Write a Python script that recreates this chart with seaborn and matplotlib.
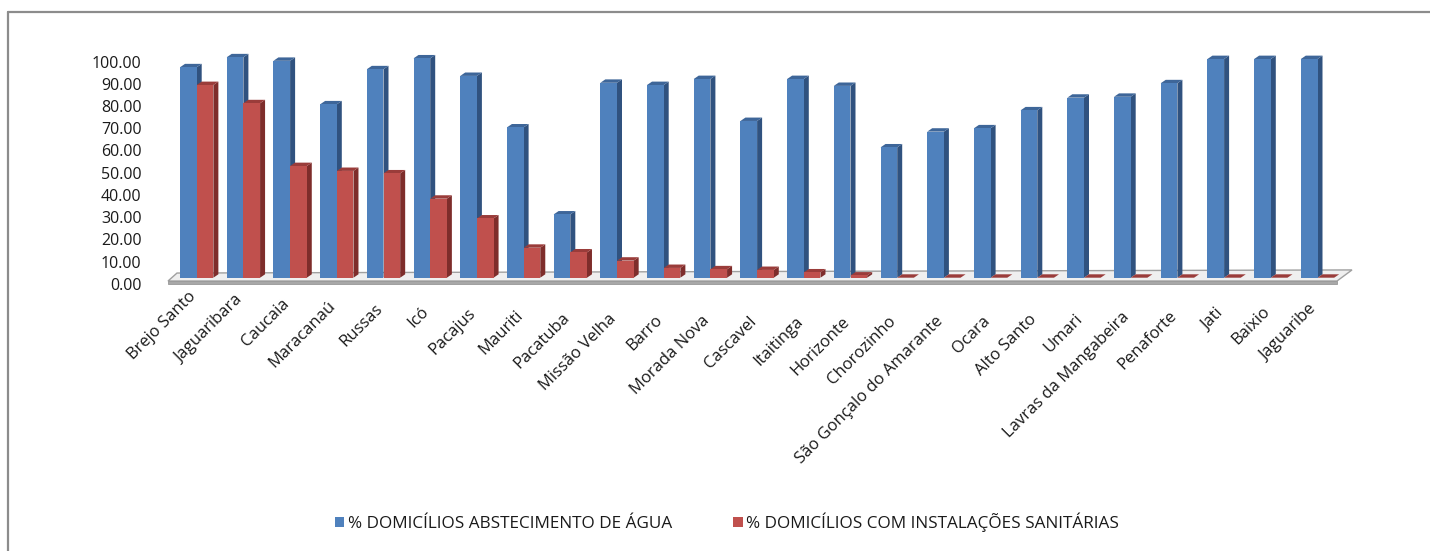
import matplotlib
matplotlib.use("Agg")
import matplotlib.pyplot as plt
from matplotlib.patches import Polygon, Patch
from matplotlib.lines import Line2D
from matplotlib.transforms import ScaledTranslation
import seaborn as sns
import pandas as pd

municipios = [
    "Brejo Santo", "Jaguaribara", "Caucaia", "Maracanaú", "Russas", "Icó",
    "Pacajus", "Mauriti", "Pacatuba", "Missão Velha", "Barro", "Morada Nova",
    "Cascavel", "Itaitinga", "Horizonte", "Chorozinho",
    "São Gonçalo do Amarante", "Ocara", "Alto Santo", "Umari",
    "Lavras da Mangabeira", "Penaforte", "Jati", "Baixio", "Jaguaribe",
]
agua = [94.8, 99.3, 97.7, 78.1, 93.9, 98.8, 90.9, 67.7, 28.5, 87.8, 86.8,
        89.5, 70.6, 89.5, 86.4, 58.7, 65.8, 67.3, 75.4, 81.1, 81.5, 87.6,
        98.5, 98.5, 98.5]
sanitarias = [86.8, 78.6, 50.3, 48.1, 47.0, 35.6, 26.7, 13.5, 11.4, 7.7, 4.4,
              3.8, 3.5, 2.4, 1.0, 0.0, 0.0, 0.0, 0.0, 0.0, 0.0, 0.0, 0.0,
              0.0, 0.0]
series = ["% DOMICÍLIOS ABSTECIMENTO DE ÁGUA",
          "% DOMICÍLIOS COM INSTALAÇÕES SANITÁRIAS"]
yticks = [0, 10, 20, 30, 40, 50, 60, 70, 80, 90, 100]

df = pd.DataFrame({
    "municipio": municipios * 2,
    "valor": agua + sanitarias,
    "serie": [series[0]] * len(municipios) + [series[1]] * len(municipios),
})

front = ["#4F81BD", "#C0504D"]
side = ["#30527F", "#7E2D2B"]
top = ["#3E6699", "#9A3C3A"]

sns.set_theme(style="white")
plt.rcParams["font.family"] = ["Open Sans", "DejaVu Sans"]

W, H = 1430, 551
fig = plt.figure(figsize=(W / 100, H / 100), dpi=100)
fig.patch.set_facecolor("white")

# axes placed so that one category step is ~46.7 px and 100 units ~222 px
ax_left_px, ax_right_px = 150, 1370
base_px, top_px = 277.7, 55.7
ax = fig.add_axes([ax_left_px / W, 1 - base_px / H,
                   (ax_right_px - ax_left_px) / W, (base_px - top_px) / H])
ax.set_facecolor("none")

sns.barplot(data=df, x="municipio", y="valor", hue="serie",
            palette=front, width=0.714, dodge=True, saturation=1,
            legend=False, ax=ax, zorder=2, linewidth=0)

step_px = 46.7
x0c = 196.7
ax.set_xlim((ax_left_px - x0c) / step_px, (ax_right_px - x0c) / step_px)
ax.set_ylim(0, 100)

px_x = 1 / step_px               # data units per px horizontally
px_y = 100 / (base_px - top_px)  # data units per px vertically

# floor slab under the bars
fl = [((168 - x0c) * px_x, -1.5), ((1337 - x0c) * px_x, -1.5),
      ((1352 - x0c) * px_x, 3.5), ((177 - x0c) * px_x, 2.1)]
ax.add_patch(Polygon(fl, closed=True, facecolor="#efefef", edgecolor="#a0a0a0",
                     lw=1.0, zorder=0.5, clip_on=False))
ax.add_patch(Polygon([fl[0], fl[1], (fl[1][0], -2.9), (fl[0][0], -2.9)],
                     closed=True, facecolor="#a8a8a8", edgecolor="#989898",
                     lw=0.6, zorder=0.5, clip_on=False))

# depth faces (side and top) for each bar
dx, dy = 5 * px_x, 3.4 * px_y
n = len(municipios)
for i, p in enumerate(ax.patches[: 2 * n]):
    s = 0 if i < n else 1
    x0 = p.get_x()
    x1 = x0 + p.get_width()
    h = p.get_height()
    ax.add_patch(Polygon([(x1, 0), (x1 + dx, dy), (x1 + dx, h + dy), (x1, h)],
                         closed=True, facecolor=side[s], edgecolor="none",
                         zorder=1 + 0.1 * s, clip_on=False))
    ax.add_patch(Polygon([(x0, h), (x0 + dx, h + dy), (x1 + dx, h + dy), (x1, h)],
                         closed=True, facecolor=top[s], edgecolor="none",
                         zorder=1 + 0.1 * s, clip_on=False))

sns.despine(ax=ax, left=True, bottom=True)
ax.grid(False)
ax.set_xlabel("")
ax.set_ylabel("")

ax.set_yticks(yticks)
ax.set_yticklabels([f"{v:.2f}" for v in yticks], fontsize=11.5, color="#1a1a1a")
ax.tick_params(axis="y", length=0, pad=6)
shift = ScaledTranslation(0, -6 / 100, fig.dpi_scale_trans)
for lab in ax.get_yticklabels():
    lab.set_transform(lab.get_transform() + shift)

ax.set_xticks(range(n))
ax.set_xticklabels(municipios, fontsize=12, color="#1a1a1a",
                   rotation=45, ha="right", rotation_mode="anchor")
ax.tick_params(axis="x", length=0, pad=8)
# labels sag slightly toward the middle of the row, as in a perspective view
for i, lab in enumerate(ax.get_xticklabels()):
    sag = max(0.0, 25 - 0.1276 * (i - 14) ** 2)
    lab.set_transform(lab.get_transform()
                      + ScaledTranslation(-9 / 100, -sag / 100, fig.dpi_scale_trans))

# chart frame
fig.add_artist(Line2D([8 / W, 8 / W], [0, 1 - 12 / H], color="#8c8c8c",
                      lw=1.6, transform=fig.transFigure))
fig.add_artist(Line2D([8 / W, 1], [1 - 12 / H, 1 - 12 / H], color="#8c8c8c",
                      lw=1.6, transform=fig.transFigure))

handles = [Patch(facecolor=front[0], edgecolor="none"),
           Patch(facecolor=front[1], edgecolor="none")]
fig.legend(handles, series, loc="center", bbox_to_anchor=(727 / W, 1 - 522 / H),
           ncol=2, frameon=False, fontsize=12.3, handlelength=0.55,
           handleheight=0.55, handletextpad=0.2, columnspacing=3.6,
           labelcolor="#1a1a1a")

fig.savefig("out.png", dpi=100, facecolor="white")
